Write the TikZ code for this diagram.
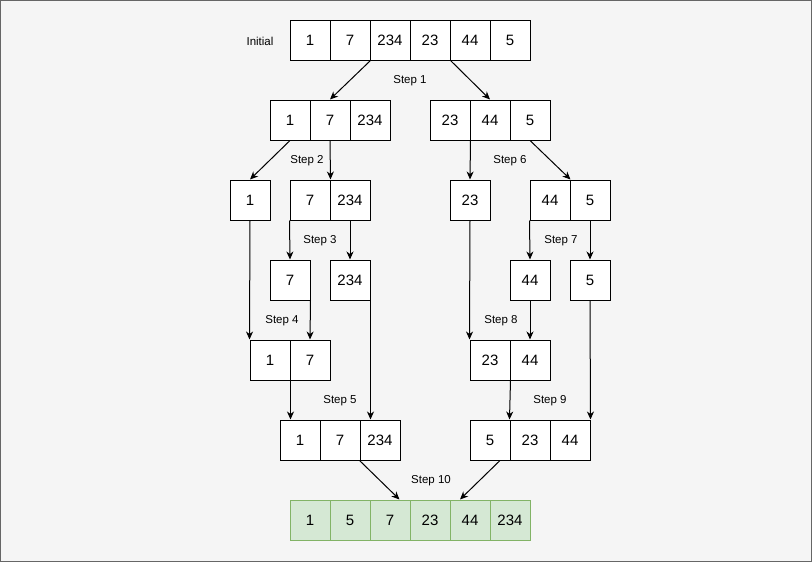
\documentclass[tikz,border=0pt]{standalone}
\usepackage{fontspec}
\setmainfont{Liberation Sans}
\usetikzlibrary{arrows.meta,calc}
\definecolor{bgc}{HTML}{F5F5F5}
\definecolor{bordc}{HTML}{666666}
\definecolor{gfill}{HTML}{D5E8D4}
\definecolor{gline}{HTML}{82B366}
\begin{document}
\begin{tikzpicture}[x=1pt,y=-1pt,
  cell/.style={draw=black, fill=white, line width=1pt, minimum width=40pt, minimum height=40pt, inner sep=0pt, font=\fontsize{15}{15}\selectfont},
  gcell/.style={cell, draw=gline, fill=gfill},
  lbl/.style={inner sep=0pt, font=\fontsize{11.5}{11.5}\selectfont},
  arr/.style={line width=1pt, -{Stealth[length=8pt,width=7pt,inset=2.5pt]}}]
\useasboundingbox (0,0) rectangle (812,562);
\fill[bgc, draw=bordc, line width=1pt] (0.5,0.5) rectangle (811.5,561.5);
% row a
\node[cell] (a1) at (310,40) {1};
\node[cell] (a2) at (350,40) {7};
\node[cell] (a3) at (390,40) {234};
\node[cell] (a4) at (430,40) {23};
\node[cell] (a5) at (470,40) {44};
\node[cell] (a6) at (510,40) {5};
\node[lbl] (lini) at (260,41) {Initial};
% row b
\node[cell] (b1) at (290,120) {1};
\node[cell] (b2) at (330,120) {7};
\node[cell] (b3) at (370,120) {234};
\node[cell] (c1) at (450,120) {23};
\node[cell] (c2) at (490,120) {44};
\node[cell] (c3) at (530,120) {5};
% row d
\node[cell] (d1) at (250,200) {1};
\node[cell] (d2) at (310,200) {7};
\node[cell] (d3) at (350,200) {234};
\node[cell] (d4) at (470,200) {23};
\node[cell] (d5) at (550,200) {44};
\node[cell] (d6) at (590,200) {5};
% row e
\node[cell] (e1) at (290,280) {7};
\node[cell] (e2) at (350,280) {234};
\node[cell] (e3) at (530,280) {44};
\node[cell] (e4) at (590,280) {5};
% row f
\node[cell] (f1) at (270,360) {1};
\node[cell] (f2) at (310,360) {7};
\node[cell] (f3) at (490,360) {23};
\node[cell] (f4) at (530,360) {44};
% row g
\node[cell] (g1) at (300,440) {1};
\node[cell] (g2) at (340,440) {7};
\node[cell] (g3) at (380,440) {234};
\node[cell] (g4) at (490,440) {5};
\node[cell] (g5) at (530,440) {23};
\node[cell] (g6) at (570,440) {44};
% row h
\node[gcell] (h1) at (310,520) {1};
\node[gcell] (h2) at (350,520) {5};
\node[gcell] (h3) at (390,520) {7};
\node[gcell] (h4) at (430,520) {23};
\node[gcell] (h5) at (470,520) {44};
\node[gcell] (h6) at (510,520) {234};
% labels
\node[lbl] (s1) at (410,81) {Step 1};
\node[lbl] (s2) at (307,161) {Step 2};
\node[lbl] (s6) at (510,161) {Step 6};
\node[lbl] (s3) at (320,241) {Step 3};
\node[lbl] (s7) at (561,241) {Step 7};
\node[lbl] (s4) at (282,321) {Step 4};
\node[lbl] (s8) at (501,321) {Step 8};
\node[lbl] (s5) at (340,401) {Step 5};
\node[lbl] (s9) at (550,401) {Step 9};
\node[lbl] (s10) at (431,481) {Step 10};
% arrows
\draw[arr] (a2.south east) -- (b2.north);
\draw[arr] (a4.south east) -- (c2.north);
\draw[arr] (b1.south) -- (d1.north);
\draw[arr] (b2.south) -- (d2.north east);
\draw[arr] (c1.south east) -- (d4.north);
\draw[arr] (c3.south) -- (d5.north east);
\draw[arr] (d2.south west) -- (e1.north);
\draw[arr] (d3.south) -- (e2.north);
\draw[arr] (d5.south west) -- (e3.north);
\draw[arr] (d6.south) -- (e4.north);
\draw[arr] (d1.south) -- (f1.north west);
\draw[arr] (e1.south east) -- (f2.north);
\draw[arr] (d4.south) -- (f3.north west);
\draw[arr] (e3.south) -- (f4.north);
\draw[arr] (f1.south east) -- (f1.south east |- g1.north);
\draw[arr] (e2.south east) -- (e2.south east |- g3.north);
\draw[arr] (f3.south east) -- (g5.north west);
\draw[arr] (e4.south) -- (g6.north east);
\draw[arr] (g3.south west) -- ([xshift=-10pt]h4.north west);
\draw[arr] ([xshift=10pt]g4.south) -- ([xshift=-10pt]h5.north);
\end{tikzpicture}
\end{document}
